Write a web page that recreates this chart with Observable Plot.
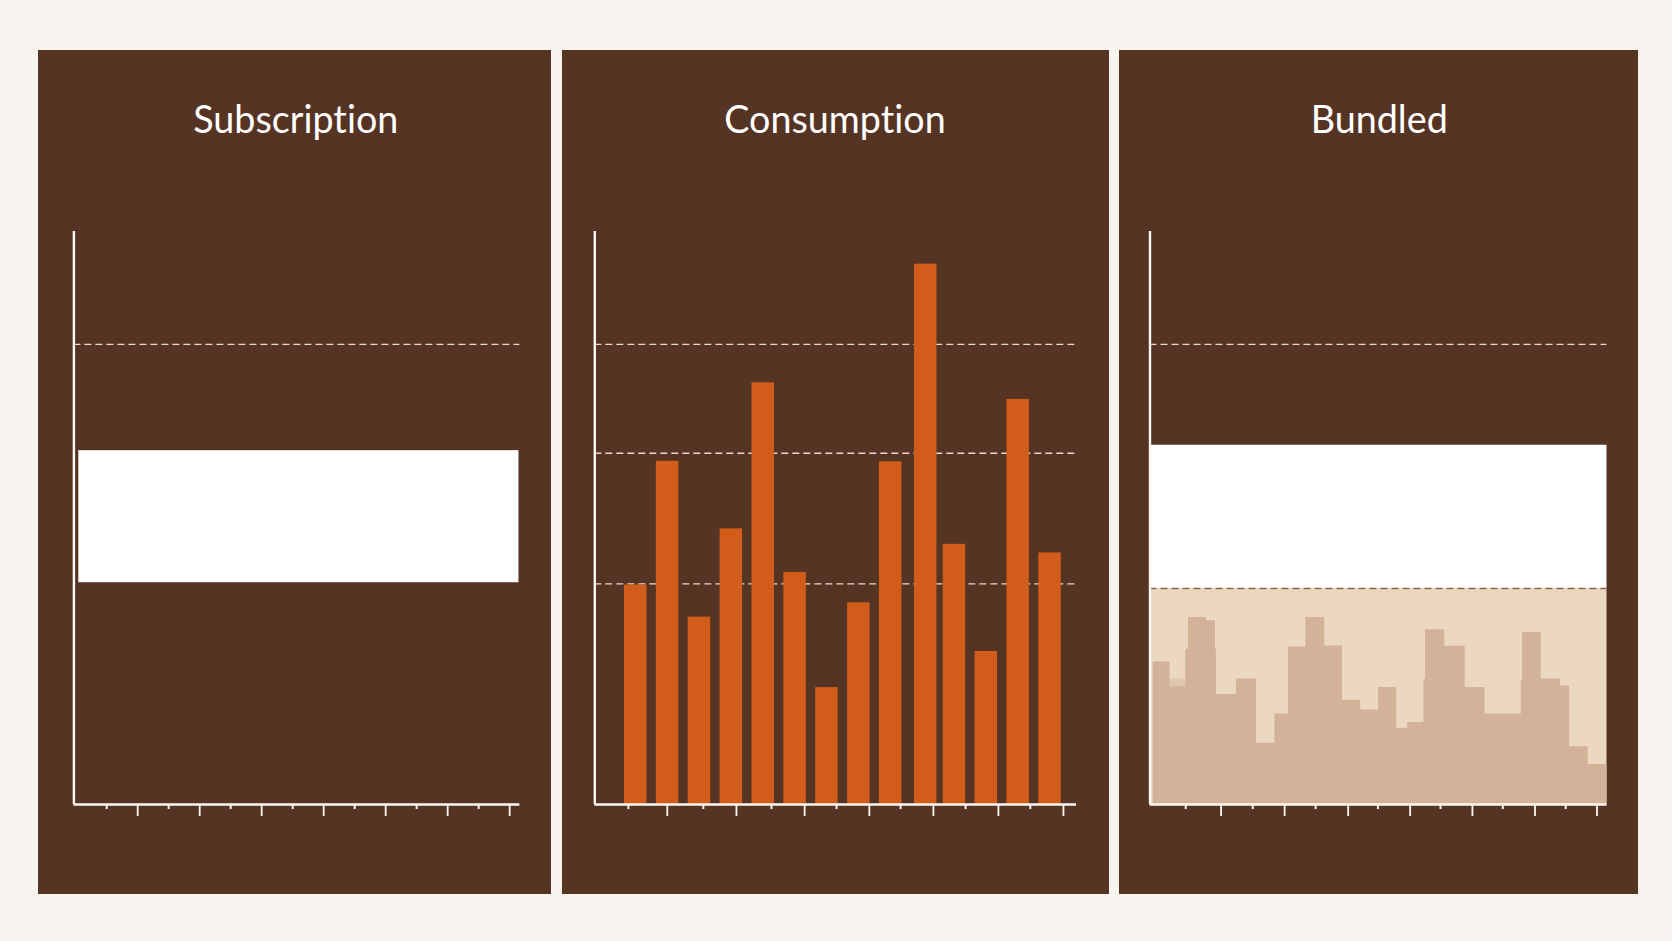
<!DOCTYPE html>
<html><head><meta charset="utf-8">
<script src="https://cdn.jsdelivr.net/npm/d3@7"></script>
<script src="https://cdn.jsdelivr.net/npm/@observablehq/plot@0.6"></script>
<style>
html,body{margin:0;padding:0;background:#f7f3ee;width:1672px;height:941px;overflow:hidden}
.panel{position:absolute;background:#563424}
.panel svg{display:block;background:transparent}
.title{position:absolute;left:0;right:0;text-align:center;color:#fff;font:400 37.7px/44px Lato,sans-serif;font-variant-ligatures:none}
</style></head><body>
<script>
const titles = ["Subscription", "Consumption", "Bundled"];

// Shared thresholds on the 0-100 y axis
const upperLimit = 80.3, midLimit = 61.3, lowerLimit = 38.5;

// Subscription: flat committed band
const subscriptionBand = {low: 38.7, high: 61.75, start: 0.10, end: 14.3};
const subscriptionTicks = [1,2,3,4,5,6,7,8,9,10,11,12,13,14];

// Consumption: usage per period
const periods = [1,2,3,4,5,6,7,8,9,10.1,11,12,13,14];
const usage = [38.3,59.9,32.7,48.1,73.6,40.5,20.4,35.2,59.8,94.3,45.4,26.7,70.7,43.9];
const consumptionTicks = [1.27,2.49,3.62,4.66,5.76,6.80,7.80,8.83,9.81,10.84,11.85,12.88,13.88,14.92];

// Bundled: committed block, allowance area and stepped usage
const bundledBand = {low: 37.7, high: 62.7};
const stepEdges = [0,.54,1.04,1.13,1.70,1.99,2.02,2.66,3.30,3.89,4.32,4.88,5.48,6.05,6.63,7.20,7.78,8.13,8.65,8.70,9.32,9.97,10.60,11.76,11.80,12.40,13.01,13.31,13.90,14.50];
const stepUsage = [24.85,20.55,27.1,32.65,32.07,27.1,19.2,21.9,10.7,15.8,27.5,32.65,27.65,18.2,16.5,20.4,13.3,14.3,21.8,30.5,27.6,20.4,15.8,21.7,30,21.9,20.7,10.1,7,7];
const overlapPeak = {start: .54, end: 1.04, low: 20.55, high: 21.9};
const bundledTicks = [1.04,2.17,3.18,4.20,5.19,6.23,7.18,8.21,9.18,10.20,11.17,12.20,13.18,14.18];

const AX = "#fbf8f4", DASH = "#e6d9cc";

function axes(domain, ticks) {
  return [
    Plot.axisX({ticks: ticks.filter((d, i) => i % 2 === 0), tickSize: 5, tickFormat: () => "", stroke: AX, strokeWidth: 2, label: null}),
    Plot.axisX({ticks: ticks.filter((d, i) => i % 2 === 1), tickSize: 12, tickFormat: () => "", stroke: AX, strokeWidth: 1.8, label: null}),
    Plot.ruleX([domain[0]], {y1: 0, y2: 100, stroke: AX, strokeWidth: 2.4}),
    Plot.ruleY([0], {stroke: AX, strokeWidth: 2.4})
  ];
}
function dashes(values, stroke = DASH, w = 1.4) {
  return Plot.ruleY(values, {stroke, strokeWidth: w, strokeDasharray: "7,4"});
}

const panels = [
  {left: 37.6, width: 513.4, shift: 1.5, marginLeft: 35.4, marginRight: 32, domain: [-0.058, 14.33], title: titles[0], marks: d => [
    dashes([upperLimit]),
    Plot.rect([subscriptionBand], {x1: "start", x2: "end", y1: "low", y2: "high", fill: "#ffffff"}),
    ...axes(d, subscriptionTicks)
  ]},
  {left: 562, width: 547, shift: -0.5, marginLeft: 32.3, marginRight: 33, domain: [0.216, 15.33], title: titles[1], marks: d => [
    dashes([upperLimit, midLimit, lowerLimit]),
    Plot.rectY(periods.map((p, i) => ({p, q: p + 1, v: usage[i]})), {x1: "p", x2: "q", y: "v", insetLeft: 4.7, insetRight: 4.7, fill: "#d25c19"}),
    ...axes(d, consumptionTicks)
  ]},
  {left: 1118.5, width: 519.5, shift: 1, marginLeft: 30.5, marginRight: 32, domain: [-0.102, 14.5], title: titles[2], marks: d => [
    dashes([upperLimit]),
    Plot.rect([{a: d[0], b: d[1], low: bundledBand.low, high: bundledBand.high}], {x1: "a", x2: "b", y1: "low", y2: "high", fill: "#ffffff"}),
    Plot.rect([{a: d[0], b: d[1], low: 0, high: bundledBand.low}], {x1: "a", x2: "b", y1: "low", y2: "high", fill: "#ecd8c1"}),
    Plot.rect([overlapPeak], {x1: "start", x2: "end", y1: "low", y2: "high", fill: "#dfc7ae"}),
    Plot.areaY(stepEdges.map((e, i) => ({e, v: stepUsage[i]})), {x: "e", y: "v", curve: "step-after", fill: "#d2b399"}),
    dashes([bundledBand.low], "#8f6547", 1.3),
    ...axes(d, bundledTicks)
  ]}
];

for (const p of panels) {
  const div = document.createElement("div");
  div.className = "panel";
  div.style.cssText = `left:${p.left}px;top:50px;width:${p.width}px;height:844px`;
  const t = document.createElement("div");
  t.className = "title";
  t.style.top = "47px";
  t.style.left = `${2 * p.shift}px`;
  t.textContent = p.title;
  div.appendChild(t);
  div.appendChild(Plot.plot({
    width: p.width, height: 844,
    marginLeft: p.marginLeft, marginRight: p.marginRight, marginTop: 181, marginBottom: 90,
    x: {domain: p.domain},
    y: {domain: [0, 100], axis: null},
    style: {background: "transparent"},
    marks: p.marks(p.domain)
  }));
  document.body.appendChild(div);
}
</script>
</body></html>
